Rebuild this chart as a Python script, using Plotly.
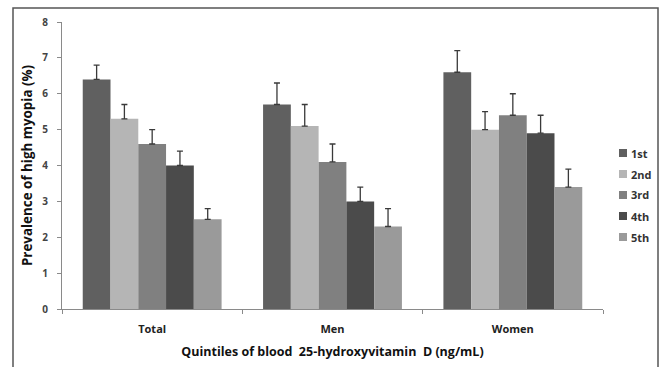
import plotly.graph_objects as go

groups = ["Total", "Men", "Women"]
quintiles = ["1st", "2nd", "3rd", "4th", "5th"]

q1_values = [6.4, 5.7, 6.6]
q2_values = [5.3, 5.1, 5.0]
q3_values = [4.6, 4.1, 5.4]
q4_values = [4.0, 3.0, 4.9]
q5_values = [2.5, 2.3, 3.4]

q1_errors = [0.4, 0.6, 0.6]
q2_errors = [0.4, 0.6, 0.5]
q3_errors = [0.4, 0.5, 0.6]
q4_errors = [0.4, 0.4, 0.5]
q5_errors = [0.3, 0.5, 0.5]

y_ticks = [0, 1, 2, 3, 4, 5, 6, 7, 8]

colors = ["#606060", "#b5b5b5", "#808080", "#4b4b4b", "#9a9a9a"]

series_values = [q1_values, q2_values, q3_values, q4_values, q5_values]
series_errors = [q1_errors, q2_errors, q3_errors, q4_errors, q5_errors]

W, H = 661, 367
L, R, T, B = 62, 58, 22, 58
PW, PH = W - L - R, H - T - B


def px_x(p):
    return (p - L) / PW


def px_y(p):
    return (H - B - p) / PH


FONT = "'Open Sans', Lato, sans-serif"

fig = go.Figure()
for name, vals, errs, col in zip(quintiles, series_values, series_errors, colors):
    fig.add_trace(go.Bar(
        name=name, x=groups, y=vals,
        marker=dict(color=col, line=dict(width=0)),
        error_y=dict(type="data", array=errs, arrayminus=[0] * len(errs),
                     symmetric=False, color="#3a3a3a", thickness=1.3, width=3),
        showlegend=False,
    ))

# manual legend matching the reference placement
shapes = []
annotations = []
for i, (name, col) in enumerate(zip(quintiles, colors)):
    cy = 153 + i * 21
    shapes.append(dict(type="rect", xref="paper", yref="paper",
                       x0=px_x(619), x1=px_x(627), y0=px_y(cy + 4), y1=px_y(cy - 4),
                       fillcolor=col, line=dict(width=0)))
    annotations.append(dict(text="<b>" + name + "</b>", xref="paper", yref="paper",
                            x=px_x(629), y=px_y(cy), xanchor="left", yanchor="middle",
                            showarrow=False, font=dict(family=FONT, size=11, color="#333333")))

# outer chart frame
shapes.append(dict(type="rect", xref="paper", yref="paper",
                   x0=px_x(13), x1=px_x(658), y0=px_y(400), y1=px_y(8),
                   line=dict(color="#555555", width=1.5), fillcolor="rgba(0,0,0,0)", layer="below"))

fig.update_layout(
    width=W, height=H,
    margin=dict(l=L, r=R, t=T, b=B),
    paper_bgcolor="white", plot_bgcolor="white",
    barmode="group", bargap=0.23, bargroupgap=0,
    font=dict(family=FONT, size=11, color="#333333"),
    shapes=shapes, annotations=annotations,
    xaxis=dict(
        automargin=False,
        showline=True, linecolor="#8a8a8a", linewidth=1,
        ticks="outside", ticklen=4, tickcolor="#8a8a8a", tickson="boundaries",
        tickfont=dict(family=FONT, size=11, color="#222222"),
        ticklabelstandoff=10,
        tickvals=groups, ticktext=["<b>" + g + "</b>" for g in groups],
        title=dict(text="<b>Quintiles of blood  25-hydroxyvitamin  D (ng/mL)</b>",
                   font=dict(family=FONT, size=12.5, color="#111111"),
                   standoff=12),
        showgrid=False, zeroline=False,
    ),
    yaxis=dict(
        automargin=False,
        range=[0, 8], tickvals=y_ticks,
        ticktext=["<b>%d</b>" % v for v in y_ticks],
        showline=True, linecolor="#8a8a8a", linewidth=1,
        ticks="outside", ticklen=4, tickcolor="#8a8a8a",
        ticklabelstandoff=7,
        tickfont=dict(family=FONT, size=10, color="#444444"),
        title=dict(text="<b>Prevalence of high myopia (%)</b>",
                   font=dict(family=FONT, size=13.4, color="#111111"),
                   standoff=6),
        showgrid=False, zeroline=False,
    ),
)

fig.write_html("out.html")
